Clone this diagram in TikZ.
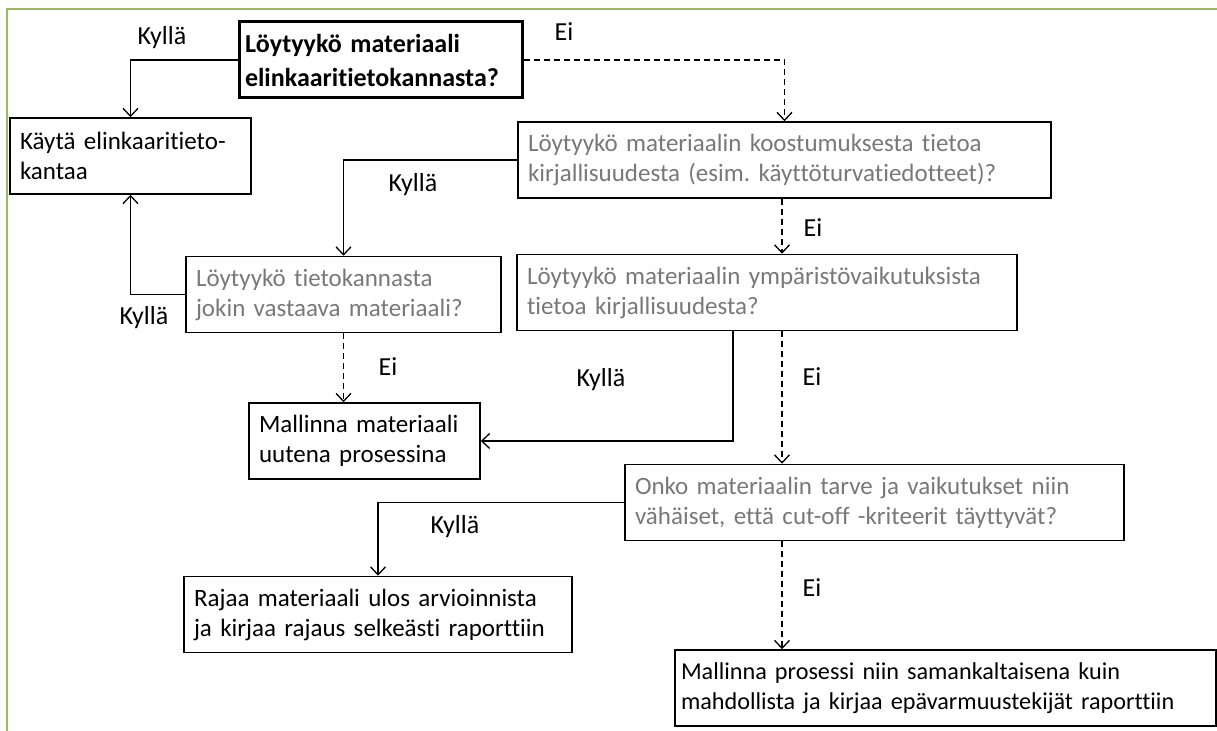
\documentclass[tikz,border=0pt]{standalone}
\usepackage{fontspec}
\setmainfont{Carlito}[Ligatures=NoCommon]
\usetikzlibrary{arrows.meta}
\definecolor{greenline}{RGB}{155,187,89}
\definecolor{asktext}{RGB}{120,120,120}
\hyphenpenalty=10000
\frenchspacing

\begin{document}
\begin{tikzpicture}[x=0.5pt,y=-0.5pt,
    box/.style={draw,line width=0.75pt,align=left,text width=#1,
      minimum height=38pt,inner xsep=5pt,inner ysep=2pt,
      font=\fontsize{12.5}{15}\selectfont},
    ask/.style={box=#1,text=asktext},
    lbl/.style={font=\fontsize{13}{15}\selectfont},
    greenframe/.style={greenline,line width=1.3pt},
    yes/.style={line width=0.65pt,-{Straight Barb[length=4pt,width=7.5pt]}},
    no/.style={yes,dash pattern=on 3pt off 2pt}]
  \useasboundingbox (0,0) rectangle (1217,731);
  \draw[greenframe] (7,731) -- (7,9) -- (1217,9);
  \coordinate (spine) at (782,0);
  \draw
    (380.5,60) node[box=135.5pt,inner xsep=3pt,line width=1.5pt,font=\fontsize{13}{17}\selectfont\bfseries] (top)
      {Löytyykö materiaali\\elinkaaritietokannasta?}
    (130.5,156) node[box=110.5pt] (kayta) {Käytä elinkaaritieto-\\kantaa}
    (784.5,160) node[ask=256.5pt] (koostumus)
      {Löytyykö materiaalin koostumuksesta tietoa\\kirjallisuudesta (esim. käyttöturvatiedotteet)?}
    (343.5,294.5) node[ask=147.5pt] (vastaava) {Löytyykö tietokannasta\\jokin vastaava materiaali?}
    (767,292.5) node[ask=240pt] (ymparisto)
      {Löytyykö materiaalin ympäristövaikutuksista\\tietoa kirjallisuudesta?}
    (364.5,441) node[box=105.5pt] (mallinna) {Mallinna materiaali\\uutena prosessina}
    (874.5,502.5) node[ask=239.5pt] (cutoff)
      {Onko materiaalin tarve ja vaikutukset niin\\vähäiset, että cut-off -kriteerit täyttyvät?}
    (378,614.5) node[box=184pt] (rajaa)
      {Rajaa materiaali ulos arvioinnista\\ja kirjaa rajaus selkeästi raporttiin}
    (945.5,688) node[box=264.5pt,inner xsep=3pt,font=\fontsize{12.1}{15}\selectfont] (prosessi)
      {Mallinna prosessi niin samankaltaisena kuin\\mahdollista ja kirjaa epävarmuustekijät raporttiin};
  \draw
    (162,38) node[lbl] (k1) {Kyllä}
    (564,32) node[lbl] (e1) {Ei}
    (413,185) node[lbl] (k2) {Kyllä}
    (144,318) node[lbl] (k3) {Kyllä}
    (813,228) node[lbl] (e2) {Ei}
    (388,367) node[lbl] (e3) {Ei}
    (601,380) node[lbl] (k4) {Kyllä}
    (812,377) node[lbl] (e4) {Ei}
    (455,527) node[lbl] (k5) {Kyllä}
    (812,588) node[lbl] (e5) {Ei};
  \begin{scope}
    \draw[yes] (top.west) -| (kayta.north);
    \draw[no] (top.east) -| (koostumus.north);
    \draw[yes] (koostumus.west) -| (vastaava.north);
    \draw[yes] (vastaava.west) -| (kayta.south);
    \draw[no] (koostumus.south -| spine) -- (ymparisto.north -| spine);
    \draw[no] (vastaava.south) -- (vastaava.south |- mallinna.north);
    \draw[yes] ([xshift=-17pt]ymparisto.south) |- (mallinna.east);
    \draw[no] (ymparisto.south -| spine) -- (cutoff.north -| spine);
    \draw[yes] (cutoff.west) -| (rajaa.north);
    \draw[no] (cutoff.south -| spine) -- (prosessi.north -| spine);
  \end{scope}
\end{tikzpicture}
\end{document}
